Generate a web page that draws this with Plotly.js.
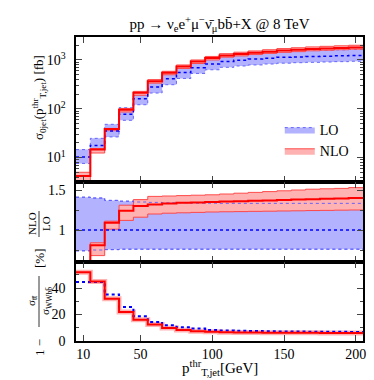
<!DOCTYPE html>
<html>
<head>
<meta charset="utf-8">
<script src="https://cdn.plot.ly/plotly-3.0.1.min.js"></script>
<style>html,body{margin:0;padding:0;background:#fff;}#plot{width:374px;height:380px;}</style>
</head>
<body>
<div id="plot"></div>
<script>
// ---- data (bin centres in GeV, bin width 10 GeV) ----
const pT = [10,20,30,40,50,60,70,80,90,100,110,120,130,140,150,160,170,180,190,200];
const binWidth = 10;

// top panel: sigma_0jet [fb]
const loCentral = [10.3,17.7,35,77,160,278,410,550,696,828,930,990,1040,1085,1130,1155,1175,1195,1215,1235];
const loUpper   = [14.6,24.8,48,105,216,374,549,737,929,1100,1237,1317,1383,1443,1503,1536,1563,1589,1616,1643];
const loLower   = [7.6,13.2,26.5,58,121,210,311,418,529,629,707,752,790,825,859,878,893,908,923,939];
const nloCentral= [4.2,14.7,38.5,95,212,368,545,735,925,1090,1240,1320,1400,1480,1560,1620,1680,1720,1760,1800];
const nloUpper  = [5.0,15.3,39.5,101,227,396,585,790,1000,1180,1345,1440,1530,1620,1710,1780,1850,1900,1950,2000];
const nloLower  = [2.5,12.4,35.5,86,189,335,497,670,845,1000,1140,1210,1290,1360,1430,1480,1540,1580,1620,1660];

// middle panel: NLO/LO
const ratioLO     = [1,1,1,1,1,1,1,1,1,1,1,1,1,1,1,1,1,1,1,1];
const ratioLOUp   = [1.41,1.40,1.37,1.36,1.35,1.345,1.34,1.34,1.335,1.335,1.333,1.333,1.333,1.333,1.333,1.333,1.333,1.333,1.333,1.333];
const ratioLODn   = [0.74,0.75,0.755,0.76,0.76,0.76,0.76,0.76,0.76,0.76,0.76,0.76,0.76,0.76,0.76,0.76,0.76,0.76,0.76,0.76];
const ratioNLO    = [0.41,0.81,1.09,1.24,1.30,1.32,1.33,1.34,1.345,1.35,1.355,1.36,1.365,1.37,1.375,1.38,1.385,1.39,1.395,1.40];
const ratioNLOUp  = [0.50,0.84,1.11,1.31,1.38,1.42,1.425,1.43,1.435,1.44,1.45,1.46,1.47,1.48,1.49,1.50,1.51,1.515,1.52,1.53];
const ratioNLODn  = [0.30,0.68,1.01,1.12,1.16,1.20,1.21,1.215,1.22,1.225,1.228,1.23,1.233,1.235,1.238,1.24,1.243,1.245,1.248,1.25];

// bottom panel: 1 - sigma_tt / sigma_WWbb [%]
const fracLO  = [44.5,44.5,35.2,25.6,18.7,14.4,11.9,10.4,9.4,8.3,8.0,7.7,7.5,7.3,7.2,7.1,7.0,6.9,6.9,6.8];
const fracNLO = [52,45,32,22,16,12.4,9.9,8.3,7.3,6.9,6.7,6.5,6.4,6.3,6.3,6.2,6.2,6.1,6.1,6.0];

// ---- helpers ----
const edges = pT.map(c => c - binWidth/2).concat([pT[pT.length-1] + binWidth/2]);
function stepY(v){ return v.concat([v[v.length-1]]); }
function tr(vals, xa, ya, line, extra){
  return Object.assign({type:'scatter', mode:'lines', x:edges, y:stepY(vals), xaxis:xa, yaxis:ya,
    line:Object.assign({shape:'hv'}, line), showlegend:false, hoverinfo:'skip'}, extra||{});
}
const BLUE='#0000ff', RED='#ff0000';
const LOFILL='rgb(178,178,255)', NLOFILL='rgb(255,178,178)';
const loEdge={color:'rgba(90,90,255,0.9)', width:1, dash:'dot'};
const nloEdge={color:'rgba(255,60,60,0.9)', width:1};

const traces = [
  // top
  tr(loLower,'x','y',loEdge),
  tr(loUpper,'x','y',loEdge,{fill:'tonexty', fillcolor:LOFILL, name:'LO', showlegend:true, legendrank:1}),
  tr(nloLower,'x','y',nloEdge),
  tr(nloUpper,'x','y',nloEdge,{fill:'tonexty', fillcolor:NLOFILL, name:'NLO', showlegend:true, legendrank:2}),
  tr(loCentral,'x','y',{color:BLUE, width:1.5, dash:'dot'}),
  tr(nloCentral,'x','y',{color:RED, width:2}),
  // middle
  tr(ratioLODn,'x2','y2',loEdge),
  tr(ratioLOUp,'x2','y2',loEdge,{fill:'tonexty', fillcolor:LOFILL}),
  tr(ratioNLODn,'x2','y2',nloEdge),
  tr(ratioNLOUp,'x2','y2',nloEdge,{fill:'tonexty', fillcolor:NLOFILL}),
  tr(ratioLOUp,'x2','y2',loEdge),
  tr(ratioLODn,'x2','y2',loEdge),
  tr(ratioLO,'x2','y2',{color:BLUE, width:1.5, dash:'dot'}),
  tr(ratioNLO,'x2','y2',{color:RED, width:2}),
  // bottom
  tr(fracNLO,'x3','y3',{color:'rgba(255,0,0,0.3)', width:5}),
  tr(fracLO,'x3','y3',{color:BLUE, width:2, dash:'dot'}),
  tr(fracNLO,'x3','y3',{color:RED, width:2})
];

const FONT = "'Liberation Serif', 'DejaVu Serif', serif";
const xTicks = [10,50,100,150,200];
function xax(showLabels){
  return {range:[5,205], tickvals:xTicks, ticks:'inside', ticklen:6, tickwidth:1, mirror:'allticks',
    showline:true, linewidth:1.6, linecolor:'#000', showgrid:false, zeroline:false,
    showticklabels:showLabels, tickfont:{family:FONT, size:14, color:'#000'}};
}
const minorLog = [4,5,6,7,8,9,20,30,40,50,60,70,80,90,200,300,400,500,600,700,800,900,2000];
const pb = v => (341 - v)/304; // pixel row -> paper y
const px = v => (v - 76)/287;  // pixel column -> paper x
const LABX = 39;
const yCommon = {ticks:'inside', ticklen:6, mirror:'allticks', showline:true, linewidth:1.6, linecolor:'#000',
  showgrid:false, zeroline:false, ticklabelstandoff:6, tickfont:{family:FONT, size:14, color:'#000'}};

function ylab(text, row, size){
  return {text:text, xref:'paper', yref:'paper', x:px(LABX), y:pb(row), textangle:-90, showarrow:false,
    font:{family:FONT, size:size, color:'#000'}, xanchor:'center', yanchor:'middle'};
}

const layout = {
  width:374, height:380,
  margin:{l:76, r:11, t:37, b:39},
  paper_bgcolor:'#fff', plot_bgcolor:'#fff',
  font:{family:FONT, color:'#000', size:14},
  title:{text:'pp → ν<sub>e</sub>e<sup>+</sup>μ<sup>−</sup>ν̄<sub>μ</sub>bb̄+X @ 8 TeV',
    font:{family:FONT, size:15, color:'#000'}, x:0.5, xref:'paper', xanchor:'center',
    y:1-24/380, yref:'container', yanchor:'middle'},
  showlegend:true,
  legend:{x:0.71, y:pb(114), xanchor:'left', yanchor:'top', bgcolor:'rgba(0,0,0,0)',
    font:{family:FONT, size:14, color:'#000'}, traceorder:'normal', tracegroupgap:0, itemwidth:30},
  xaxis:Object.assign(xax(false),{anchor:'y'}),
  xaxis2:Object.assign(xax(false),{anchor:'y2', matches:'x'}),
  xaxis3:Object.assign(xax(true),{anchor:'y3', matches:'x'}),
  yaxis:Object.assign({domain:[pb(182),1], type:'log', range:[0.5,3.47], tickvals:[10,100,1000],
    ticktext:['10<sup>1</sup>','10<sup>2</sup>','10<sup>3</sup>'],
    minor:{tickvals:minorLog, ticks:'inside', ticklen:3, showgrid:false}}, yCommon),
  yaxis2:Object.assign({domain:[pb(262),pb(182)], range:[0.6,1.6], tick0:0, dtick:0.5,
    minor:{dtick:0.25, tick0:0, ticks:'inside', ticklen:3, showgrid:false}}, yCommon),
  yaxis3:Object.assign({domain:[0,pb(262)], range:[0,59.7], tick0:0, dtick:20,
    minor:{dtick:10, tick0:0, ticks:'inside', ticklen:3, showgrid:false}}, yCommon),
  annotations:[
    ylab('σ<sub>0jet</sub>(p<sup>thr</sup><sub>T,jet</sub>) [fb]', 98, 13),
    ylab('NLO<br>LO', 224, 11),
    ylab('[%]', 258, 13),
    ylab('σ<sub>tt̄</sub><br>σ<sub>WWbb̄</sub>', 301, 11),
    ylab('1 −', 348, 13),
    {text:'p<sup>thr</sup><sub>T,jet</sub>[GeV]', xref:'paper', yref:'paper', x:0.5, y:pb(368), showarrow:false,
      font:{family:FONT, size:15, color:'#000'}, xanchor:'center', yanchor:'middle'}
  ],
  shapes:[
    {type:'line', xref:'paper', yref:'paper', x0:px(LABX), x1:px(LABX), y0:pb(211), y1:pb(237), line:{color:'#000', width:0.8}},
    {type:'line', xref:'paper', yref:'paper', x0:px(LABX), x1:px(LABX), y0:pb(276), y1:pb(327), line:{color:'#000', width:0.8}}
  ]
};

Plotly.newPlot('plot', traces, layout, {staticPlot:true, displayModeBar:false});
</script>
</body>
</html>
